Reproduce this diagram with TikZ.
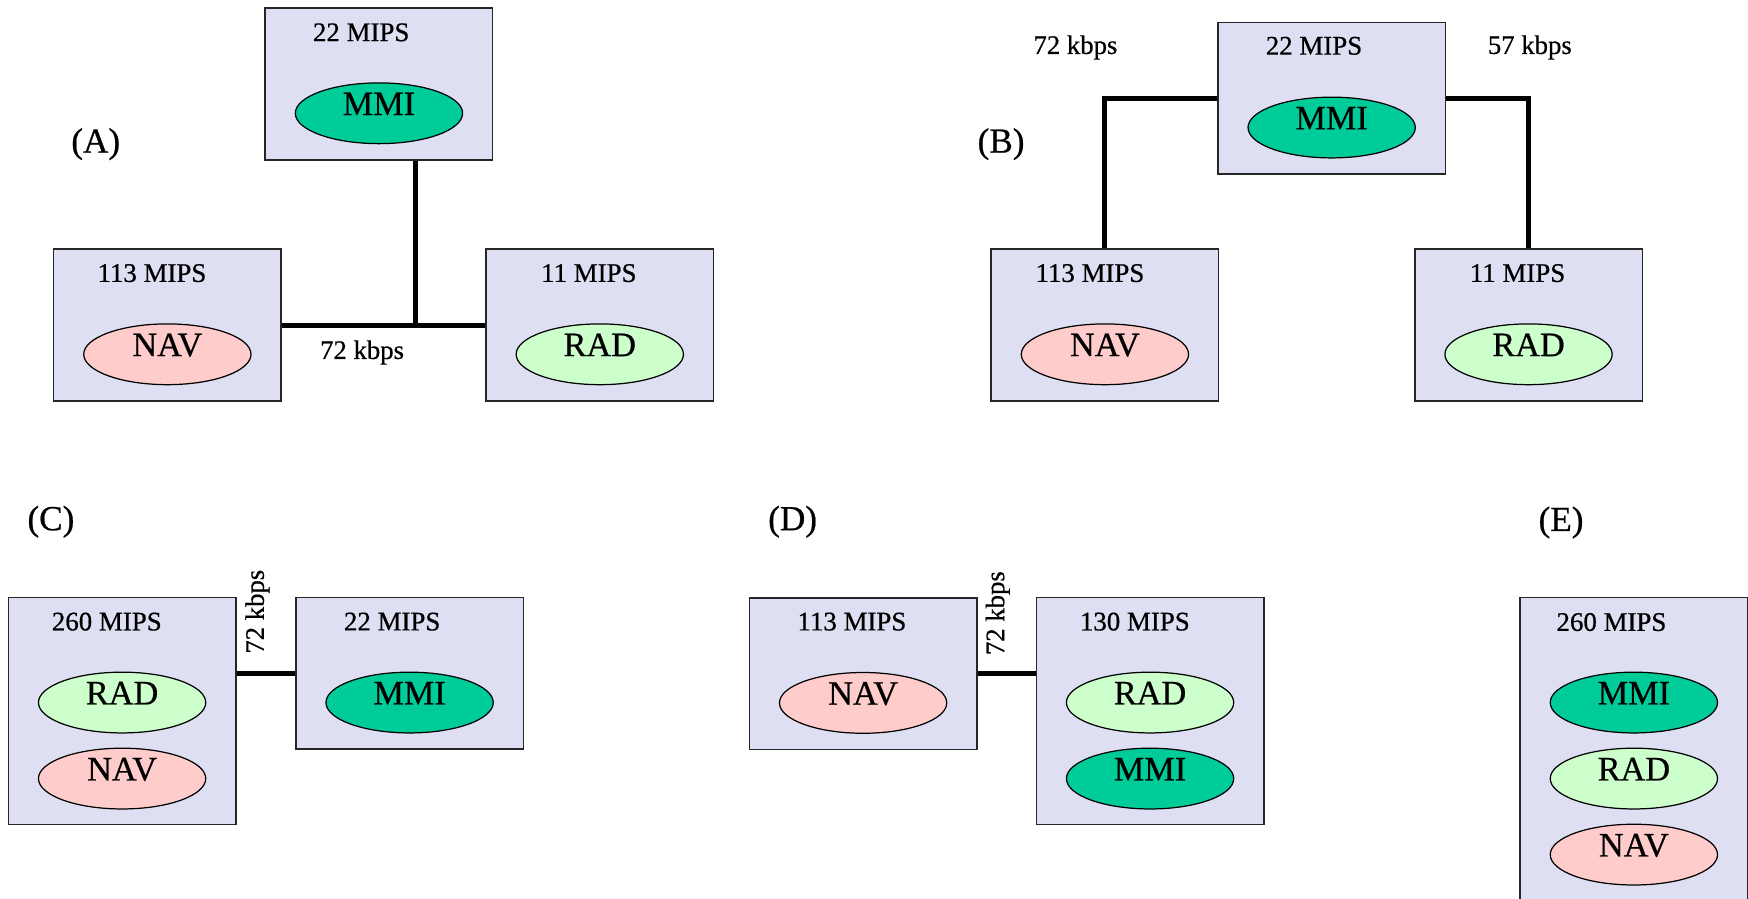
\documentclass[tikz,border=0pt]{standalone}
\usepackage{fontspec}
\setmainfont{Liberation Serif}[FakeBold=0.6]
\usetikzlibrary{shapes.geometric,calc}
\definecolor{boxfill}{RGB}{223,223,243}
\definecolor{mmifill}{RGB}{0,204,153}
\definecolor{navfill}{RGB}{255,204,204}
\definecolor{radfill}{RGB}{204,255,204}
\tikzset{
  cpu/.style={draw=black!85, line width=0.9pt, fill=boxfill, anchor=north west,
    inner sep=0pt, minimum width=4.549cm, minimum height=3.033cm},
  cputall/.style={cpu, minimum height=4.538cm},
  task/.style={ellipse, draw=black, line width=0.7pt, inner sep=0pt,
    minimum width=3.345cm, minimum height=1.215cm,
    font=\fontsize{19.5}{20}\selectfont, text height=13pt, text depth=10.9pt},
  mmi/.style={task, fill=mmifill},
  nav/.style={task, fill=navfill},
  rad/.style={task, fill=radfill},
  mips/.style={font=\fontsize{15.3}{18}\selectfont, inner sep=0pt},
  rate/.style={font=\fontsize{15.2}{18}\selectfont, inner sep=0pt},
  panel/.style={font=\fontsize{20}{22}\selectfont, inner sep=0pt},
  link/.style={draw=black, line width=2.85pt}
}
\begin{document}
\begin{tikzpicture}[x=0.0223cm, y=-0.0223cm]
\useasboundingbox (0,0) rectangle (1568,805.6);
\clip (0,0) rectangle (1568,805.6);
\fill[white] (0,0) rectangle (1568,805.6);

% ---------- (A) shared bus ----------
\node[panel] (Alab) at (85.9,129.3) {(A)};
\node[cpu] (A_MMI) at (237.2,6.6) {};
\node[cpu] (A_NAV) at (47.4,222.8) {};
\node[cpu] (A_RAD) at (435.3,222.8) {};
\node[mips] (A_MMI_m) at (324,29) {22 MIPS};
\node[mips] (A_NAV_m) at (136.3,245) {113 MIPS};
\node[mips] (A_RAD_m) at (528.2,245) {11 MIPS};
\node[mmi] (A_mmi) at ($(A_MMI.north)+(0,95)$) {MMI};
\node[nav] (A_nav) at ($(A_NAV.north)+(0,95)$) {NAV};
\node[rad] (A_rad) at ($(A_RAD.north)+(0,95)$) {RAD};
\coordinate (Aj) at (372.3,291);
\draw[link] (A_NAV.east) -- (A_RAD.west);
\draw[link] (A_MMI.south -| Aj) -- (Aj);
\node[rate] (A_rate) at (324.8,316.2) {72 kbps};

% ---------- (B) point-to-point links ----------
\node[panel] (Blab) at (898,129.3) {(B)};
\node[cpu] (B_MMI) at (1091.8,19.4) {};
\node[cpu] (B_NAV) at (888.4,222.8) {};
\node[cpu] (B_RAD) at (1268.4,222.8) {};
\node[mips] (B_MMI_m) at (1178.7,41.1) {22 MIPS};
\node[mips] (B_NAV_m) at (977.7,245) {113 MIPS};
\node[mips] (B_RAD_m) at (1361.3,245) {11 MIPS};
\node[mmi] (B_mmi) at ($(B_MMI.north)+(0,95)$) {MMI};
\node[nav] (B_nav) at ($(B_NAV.north)+(0,95)$) {NAV};
\node[rad] (B_rad) at ($(B_RAD.north)+(0,95)$) {RAD};
\draw[link] (B_MMI.west) -| (B_NAV.north);
\draw[link] (B_MMI.east) -| (B_RAD.north);
\node[rate] (B_rate1) at (964.7,42.6) {72 kbps};
\node[rate] (B_rate2) at (1372.3,42.6) {57 kbps};

% ---------- (C) ----------
\node[panel] (Clab) at (45.7,468) {(C)};
\node[cputall] (C_BIG) at (6.8,535.2) {};
\node[cpu] (C_MMI) at (264.7,535.2) {};
\node[mips] (C_BIG_m) at (95.8,557.6) {260 MIPS};
\node[mips] (C_MMI_m) at (351.8,557.6) {22 MIPS};
\node[rad] (C_rad) at ($(C_BIG.north)+(0,95)$) {RAD};
\node[nav] (C_nav) at ($(C_BIG.north)+(0,163.2)$) {NAV};
\node[mmi] (C_mmi) at ($(C_MMI.north)+(0,95)$) {MMI};
\draw[link] (C_BIG.east |- C_MMI.west) -- (C_MMI.west);
\node[rate, rotate=90] (C_rate) at (230.9,548.7) {72 kbps};

% ---------- (D) ----------
\node[panel] (Dlab) at (711,468) {(D)};
\node[cpu] (D_NAV) at (671.5,535.5) {};
\node[cputall] (D_BIG) at (928.9,535.2) {};
\node[mips] (D_NAV_m) at (764.2,557.6) {113 MIPS};
\node[mips] (D_BIG_m) at (1018,557.6) {130 MIPS};
\node[nav] (D_nav) at ($(D_NAV.north)+(0,95)$) {NAV};
\node[rad] (D_rad) at ($(D_BIG.north)+(0,95)$) {RAD};
\node[mmi] (D_mmi) at ($(D_BIG.north)+(0,163.2)$) {MMI};
\draw[link] (D_NAV.east) -- (D_BIG.west |- D_NAV.east);
\node[rate, rotate=90] (D_rate) at (895,550) {72 kbps};

% ---------- (E) single processor ----------
\node[panel] (Elab) at (1400.3,468.7) {(E)};
\node[cpu, minimum height=6.69cm] (E_BIG) at (1362.9,535.2) {};
\node[mips] (E_BIG_m) at (1445.5,558) {260 MIPS};
\node[mmi] (E_mmi) at ($(E_BIG.north)+(0,95)$) {MMI};
\node[rad] (E_rad) at ($(E_BIG.north)+(0,163.2)$) {RAD};
\node[nav] (E_nav) at ($(E_BIG.north)+(0,231.4)$) {NAV};
\end{tikzpicture}
\end{document}
